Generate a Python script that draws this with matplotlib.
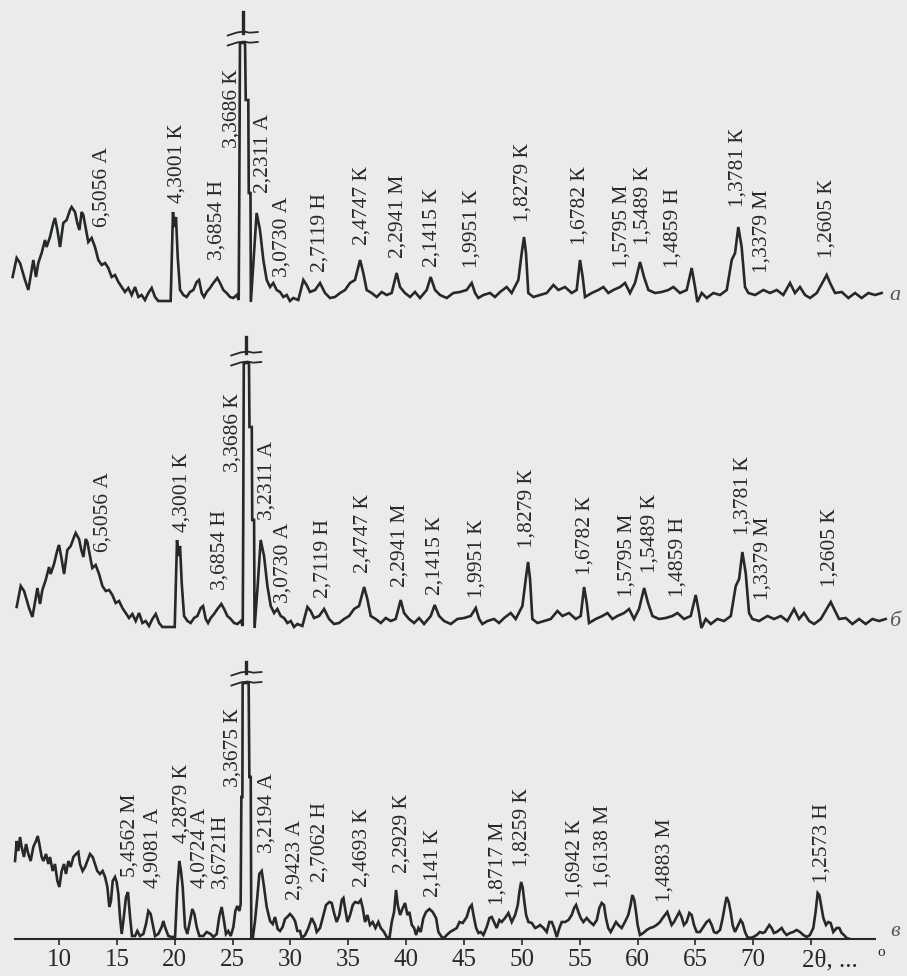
import matplotlib.pyplot as plt

# --- data: (2theta, intensity in px above the trace baseline) ---
trace_a = [
    (5.99, 25), (6.34, 44), (6.63, 39), (7.06, 22), (7.35, 12), (7.64, 32), (7.78, 42), (8.01, 25),
    (8.21, 39), (8.50, 49), (8.79, 62), (8.93, 55), (9.22, 65), (9.51, 79), (9.65, 84), (9.86, 72),
    (10.09, 55), (10.37, 79), (10.66, 82), (10.95, 92), (11.09, 95), (11.38, 90), (11.58, 79),
    (11.76, 72), (11.96, 90), (12.10, 87), (12.39, 69), (12.53, 60), (12.82, 64), (13.11, 55),
    (13.40, 42), (13.69, 37), (13.98, 39), (14.26, 34), (14.55, 25), (14.84, 27), (15.13, 20),
    (15.42, 15), (15.70, 10), (15.99, 14), (16.28, 7), (16.57, 15), (16.86, 5), (17.14, 7),
    (17.43, 2), (17.72, 9), (18.01, 14), (18.30, 5), (18.58, 1), (19.31, 1), (19.65, 1),
    (19.77, 55), (19.85, 90), (19.97, 75), (20.11, 85), (20.26, 45), (20.46, 12), (20.75, 7),
    (21.03, 5), (21.32, 10), (21.61, 12), (21.90, 20), (22.10, 22), (22.33, 9), (22.53, 5),
    (22.76, 10), (23.05, 14), (23.34, 19), (23.68, 24), (23.92, 19), (24.20, 12), (24.49, 9),
    (24.78, 5), (25.07, 4), (25.36, 7), (25.53, 2), (25.58, 102), (25.64, 259), (26.08, 259),
    (26.14, 202), (26.36, 202), (26.40, 109), (26.55, 109), (26.58, 0), (26.80, 39), (27.08, 89),
    (27.37, 72), (27.66, 42), (27.95, 22), (28.24, 15), (28.52, 19), (28.81, 12), (29.10, 10),
    (29.39, 5), (29.68, 7), (29.96, 1), (30.25, 4), (30.68, 2), (31.12, 22), (31.40, 17),
    (31.69, 10), (32.13, 12), (32.56, 19), (32.99, 9), (33.42, 4), (33.85, 5), (34.29, 9),
    (34.72, 12), (35.15, 19), (35.58, 22), (36.02, 42), (36.30, 29), (36.59, 12), (37.02, 9),
    (37.46, 5), (37.89, 10), (38.32, 7), (38.75, 9), (39.18, 29), (39.47, 15), (39.90, 9),
    (40.34, 5), (40.77, 10), (41.20, 4), (41.78, 12), (42.12, 25), (42.50, 12), (42.93, 7),
    (43.51, 4), (44.08, 9), (44.66, 10), (45.23, 12), (45.67, 19), (45.96, 9), (46.24, 4),
    (46.68, 7), (47.25, 9), (47.68, 5), (48.12, 10), (48.69, 15), (49.12, 9), (49.70, 22),
    (49.99, 49), (50.19, 65), (50.36, 49), (50.56, 9), (51.00, 5), (51.57, 7), (52.15, 9),
    (52.73, 17), (53.16, 12), (53.73, 15), (54.31, 9), (54.74, 12), (55.03, 42), (55.26, 25),
    (55.46, 5), (56.04, 9), (56.61, 12), (57.05, 15), (57.48, 9), (57.91, 12), (58.49, 15),
    (58.92, 19), (59.35, 9), (59.78, 19), (60.22, 40), (60.56, 25), (60.94, 12), (61.51, 9),
    (62.09, 10), (62.66, 12), (63.10, 15), (63.67, 9), (64.25, 12), (64.68, 34), (64.97, 15),
    (65.17, 0), (65.55, 9), (65.98, 4), (66.55, 9), (67.13, 7), (67.71, 12), (68.14, 42),
    (68.43, 49), (68.71, 75), (69.00, 55), (69.29, 15), (69.58, 9), (70.16, 7), (70.88, 12),
    (71.45, 9), (72.03, 12), (72.60, 7), (73.18, 19), (73.61, 9), (74.04, 15), (74.48, 7),
    (74.91, 4), (75.49, 9), (76.35, 27), (76.64, 19), (77.07, 9), (77.65, 10), (78.22, 4),
    (78.80, 9), (79.37, 4), (79.95, 9), (80.53, 7), (81.10, 9),
]

trace_b = [
    (6.34, 21), (6.69, 42), (6.98, 37), (7.41, 20), (7.70, 11), (7.99, 30), (8.13, 40), (8.36, 24),
    (8.56, 38), (8.85, 48), (9.14, 61), (9.28, 54), (9.57, 64), (9.86, 78), (10.00, 83), (10.21, 70),
    (10.44, 54), (10.72, 78), (11.01, 82), (11.30, 91), (11.44, 95), (11.73, 89), (11.93, 78),
    (12.11, 71), (12.31, 89), (12.45, 86), (12.74, 68), (12.88, 60), (13.17, 63), (13.46, 54),
    (13.75, 42), (14.04, 37), (14.33, 38), (14.61, 33), (14.90, 25), (15.19, 27), (15.48, 20),
    (15.77, 15), (16.05, 10), (16.34, 14), (16.63, 7), (16.92, 15), (17.21, 5), (17.49, 7),
    (17.78, 2), (18.07, 9), (18.36, 14), (18.65, 5), (18.93, 1), (19.66, 1), (20.00, 1),
    (20.12, 52), (20.20, 88), (20.32, 72), (20.46, 82), (20.61, 44), (20.81, 12), (21.10, 7),
    (21.38, 5), (21.67, 10), (21.96, 12), (22.25, 20), (22.45, 22), (22.68, 9), (22.88, 5),
    (23.11, 10), (23.40, 14), (23.69, 19), (24.03, 24), (24.27, 19), (24.55, 12), (24.84, 9),
    (25.13, 5), (25.42, 4), (25.71, 7), (25.88, 2), (25.92, 100), (25.97, 265), (26.42, 265),
    (26.46, 201), (26.66, 201), (26.70, 108), (26.86, 108), (26.90, 0), (27.15, 39), (27.43, 88),
    (27.72, 72), (28.01, 42), (28.30, 22), (28.59, 15), (28.87, 19), (29.16, 12), (29.45, 10),
    (29.74, 5), (30.03, 7), (30.31, 1), (30.60, 4), (31.03, 2), (31.47, 21), (31.75, 17),
    (32.04, 10), (32.48, 12), (32.91, 19), (33.34, 9), (33.77, 4), (34.20, 5), (34.64, 9),
    (35.07, 12), (35.50, 19), (35.93, 22), (36.37, 41), (36.65, 29), (36.94, 12), (37.37, 9),
    (37.81, 5), (38.24, 10), (38.67, 7), (39.10, 9), (39.53, 28), (39.82, 15), (40.25, 9),
    (40.69, 5), (41.12, 10), (41.55, 4), (42.13, 12), (42.47, 23), (42.85, 12), (43.28, 7),
    (43.86, 4), (44.43, 9), (45.01, 10), (45.58, 12), (46.02, 20), (46.31, 9), (46.59, 4),
    (47.03, 7), (47.60, 9), (48.03, 5), (48.47, 10), (49.04, 15), (49.47, 9), (50.05, 22),
    (50.34, 49), (50.54, 66), (50.71, 49), (50.91, 9), (51.35, 5), (51.92, 7), (52.50, 9),
    (53.08, 17), (53.51, 12), (54.08, 15), (54.66, 9), (55.09, 12), (55.38, 41), (55.61, 25),
    (55.81, 5), (56.39, 9), (56.96, 12), (57.40, 15), (57.83, 9), (58.26, 12), (58.84, 15),
    (59.27, 19), (59.70, 9), (60.13, 19), (60.57, 40), (60.91, 25), (61.29, 12), (61.86, 9),
    (62.44, 10), (63.01, 12), (63.45, 15), (64.02, 9), (64.60, 12), (65.03, 33), (65.32, 15),
    (65.52, 0), (65.90, 9), (66.33, 4), (66.90, 9), (67.48, 7), (68.06, 12), (68.49, 42),
    (68.78, 49), (69.06, 76), (69.35, 55), (69.64, 15), (69.93, 9), (70.51, 7), (71.23, 12),
    (71.80, 9), (72.38, 12), (72.95, 7), (73.53, 19), (73.96, 9), (74.39, 15), (74.83, 7),
    (75.26, 4), (75.84, 9), (76.70, 26), (76.99, 19), (77.42, 9), (78.00, 10), (78.57, 4),
    (79.15, 9), (79.72, 4), (80.30, 9), (80.88, 7), (81.45, 9),
]

trace_c = [
    (6.20, 78), (6.34, 98), (6.48, 88), (6.63, 102), (6.77, 92), (6.97, 82), (7.15, 95), (7.35, 85),
    (7.55, 78), (7.78, 92), (8.01, 98), (8.16, 103), (8.30, 95), (8.50, 82), (8.65, 78), (8.88, 85),
    (9.08, 75), (9.22, 82), (9.45, 68), (9.65, 75), (9.86, 58), (10.03, 52), (10.23, 68),
    (10.43, 75), (10.60, 65), (10.81, 78), (11.01, 72), (11.24, 82), (11.47, 85), (11.67, 87),
    (11.81, 75), (12.04, 68), (12.25, 72), (12.45, 78), (12.68, 85), (12.91, 82), (13.11, 75),
    (13.31, 68), (13.54, 65), (13.77, 68), (13.98, 62), (14.18, 52), (14.35, 32), (14.49, 38),
    (14.64, 58), (14.84, 62), (14.98, 57), (15.13, 45), (15.27, 22), (15.42, 5), (15.56, 18),
    (15.79, 42), (15.96, 47), (16.14, 22), (16.31, 3), (16.57, 3), (16.77, 8), (17.00, 3),
    (17.29, 5), (17.52, 15), (17.72, 28), (17.92, 25), (18.15, 12), (18.30, 3), (18.58, 5),
    (18.87, 12), (19.02, 18), (19.16, 12), (19.45, 3), (19.74, 2), (20.03, 2), (20.23, 52),
    (20.40, 78), (20.54, 68), (20.69, 52), (20.89, 12), (21.09, 5), (21.32, 18), (21.52, 30),
    (21.70, 25), (21.90, 12), (22.13, 3), (22.47, 3), (22.76, 7), (23.11, 5), (23.34, 2),
    (23.63, 5), (23.86, 23), (24.06, 32), (24.26, 18), (24.43, 5), (24.63, 8), (24.84, 3),
    (25.07, 12), (25.24, 28), (25.41, 33), (25.59, 28), (25.70, 35), (25.76, 142), (25.85, 142),
    (25.87, 256), (26.39, 256), (26.45, 162), (26.57, 162), (26.62, 0), (26.74, 0), (26.94, 18),
    (27.14, 42), (27.31, 65), (27.52, 68), (27.72, 52), (27.95, 32), (28.24, 18), (28.47, 15),
    (28.67, 22), (28.90, 10), (29.10, 8), (29.33, 12), (29.53, 20), (29.73, 22), (29.96, 25),
    (30.20, 22), (30.40, 18), (30.60, 8), (30.83, 8), (30.98, 1), (31.27, 4), (31.55, 11),
    (31.84, 21), (32.13, 14), (32.27, 7), (32.56, 11), (32.85, 24), (33.08, 34), (33.37, 37),
    (33.57, 36), (33.77, 26), (34.00, 17), (34.23, 24), (34.44, 39), (34.58, 41), (34.72, 31),
    (34.93, 17), (35.16, 24), (35.39, 34), (35.59, 37), (35.88, 36), (36.08, 39), (36.25, 31),
    (36.45, 17), (36.65, 24), (36.88, 14), (37.11, 17), (37.35, 11), (37.60, 17), (37.81, 11),
    (38.09, 7), (38.32, 2), (38.56, 1), (38.76, 17), (38.96, 27), (39.13, 49), (39.28, 34),
    (39.48, 24), (39.71, 31), (39.91, 36), (40.11, 24), (40.28, 27), (40.49, 14), (40.69, 11),
    (40.86, 4), (41.06, 11), (41.26, 7), (41.49, 21), (41.72, 27), (42.01, 30), (42.30, 27),
    (42.59, 21), (42.79, 7), (43.08, 2), (43.28, 1), (43.51, 4), (43.80, 7), (44.09, 9),
    (44.38, 11), (44.61, 17), (44.89, 16), (45.24, 22), (45.47, 31), (45.67, 34), (45.87, 21),
    (46.05, 11), (46.25, 6), (46.45, 7), (46.68, 4), (46.97, 12), (47.20, 21), (47.40, 22),
    (47.60, 17), (47.83, 11), (48.06, 19), (48.26, 17), (48.55, 21), (48.84, 26), (49.13, 17),
    (49.42, 24), (49.65, 34), (49.79, 47), (49.94, 57), (50.08, 51), (50.22, 37), (50.37, 24),
    (50.57, 17), (50.86, 16), (51.15, 11), (51.35, 12), (51.58, 14), (51.87, 11), (52.15, 7),
    (52.38, 17), (52.59, 17), (52.79, 11), (53.02, 2), (53.25, 11), (53.45, 17), (53.74, 17),
    (54.03, 19), (54.31, 24), (54.52, 31), (54.69, 34), (54.89, 27), (55.09, 21), (55.32, 17),
    (55.61, 21), (55.90, 17), (56.19, 14), (56.48, 19), (56.70, 31), (56.90, 36), (57.10, 34),
    (57.27, 21), (57.47, 11), (57.68, 7), (57.91, 12), (58.14, 17), (58.34, 14), (58.63, 11),
    (58.91, 17), (59.20, 24), (59.40, 34), (59.55, 44), (59.72, 39), (59.87, 27), (60.01, 14),
    (60.21, 4), (60.50, 6), (60.79, 9), (61.08, 11), (61.36, 12), (61.65, 14), (61.94, 17),
    (62.17, 21), (62.37, 24), (62.57, 27), (62.75, 21), (62.95, 14), (63.15, 17), (63.38, 22),
    (63.61, 27), (63.81, 22), (64.01, 14), (64.24, 17), (64.48, 26), (64.68, 24), (64.88, 14),
    (65.11, 7), (65.40, 7), (65.69, 12), (65.97, 17), (66.20, 19), (66.41, 14), (66.61, 7),
    (66.84, 6), (67.13, 9), (67.36, 21), (67.56, 34), (67.70, 42), (67.88, 37), (68.05, 27),
    (68.22, 14), (68.42, 7), (68.71, 14), (68.91, 19), (69.08, 16), (69.29, 7), (69.49, 2),
    (69.72, 1), (70.01, 2), (70.30, 4), (70.58, 7), (70.81, 6), (71.01, 7), (71.22, 11),
    (71.39, 14), (71.59, 11), (71.79, 6), (72.02, 7), (72.25, 9), (72.46, 11), (72.66, 7),
    (72.89, 4), (73.18, 6), (73.46, 7), (73.75, 9), (74.04, 7), (74.33, 4), (74.62, 2),
    (74.90, 4), (75.19, 11), (75.39, 27), (75.57, 46), (75.71, 44), (75.86, 34), (76.06, 21),
    (76.29, 14), (76.49, 17), (76.69, 16), (76.92, 7), (77.21, 11), (77.44, 11), (77.64, 6),
    (77.84, 4), (78.07, 1), (78.36, 0),
]

# peak annotations: d-spacing + phase, and the 2theta they sit over
labels_a = ["6,5056 А", "4,3001 К", "3,6854 Н", "3,3686 К", "2,2311 А", "3,0730 А", "2,7119 Н",
            "2,4747 К", "2,2941 М", "2,1415 К", "1,9951 К", "1,8279 К", "1,6782 К", "1,5795 М",
            "1,5489 К", "1,4859 Н", "1,3781 К", "1,3379 М", "1,2605 К"]
peaks_a = [13.72, 20.20, 23.66, 24.95, 27.63, 29.27, 32.56, 36.19, 39.30, 42.24, 45.70, 50.10,
           55.03, 58.66, 60.48, 63.07, 68.69, 70.76, 76.38]

labels_b = ["6,5056 А", "4,3001 К", "3,6854 Н", "3,3686 К", "3,2311 А", "3,0730 А", "2,7119 Н",
            "2,4747 К", "2,2941 М", "2,1415 К", "1,9951 К", "1,8279 К", "1,6782 К", "1,5795 М",
            "1,5489 К", "1,4859 Н", "1,3781 К", "1,3379 М", "1,2605 К"]
peaks_b = [13.80, 20.63, 23.92, 25.04, 27.98, 29.36, 32.82, 36.27, 39.47, 42.50, 46.13, 50.45,
           55.46, 59.09, 61.08, 63.50, 69.12, 70.85, 76.64]

labels_c = ["5,4562 М", "4,9081 А", "4,2879 К", "4,0724 А", "3,6721Н", "3,3675 К", "3,2194 А",
            "2,9423 А", "2,7062 Н", "2,4693 К", "2,2929 К", "2,141 К", "1,8717 М", "1,8259 К",
            "1,6942 К", "1,6138 М", "1,4883 М", "1,2573 Н"]
peaks_c = [16.14, 18.12, 20.63, 22.19, 23.92, 25.04, 27.98, 30.40, 32.56, 36.19, 39.65, 42.32,
           47.94, 50.02, 54.60, 57.02, 62.38, 75.95]

xticks = [10, 15, 20, 25, 30, 35, 40, 45, 50, 55, 60, 65, 70, 75]

# --- layout (px units: axes y runs 0..939 = figure rows 939..0) ---
label_y_a = [75, 99, 42, 154, 109, 25, 30, 57, 44, 35, 34, 80, 57, 34, 57, 34, 95, 29, 44]
label_y_b = [76, 96, 38, 156, 108, 25, 30, 55, 41, 33, 30, 80, 53, 31, 55, 31, 93, 28, 41]
label_y_c = [62, 51, 96, 51, 51, 152, 86, 39, 57, 52, 66, 42, 34, 72, 41, 51, 37, 56]

plt.rcParams['font.family'] = ['Liberation Serif', 'DejaVu Serif']
INK = '#252928'
PAPER = '#ebebee'

fig = plt.figure(figsize=(9.07, 9.76), dpi=100, facecolor=PAPER)
ax = fig.add_axes([0, 37 / 976, 1, 939 / 976])
ax.set_facecolor('none')
ax.set_xlim(4.90, 83.29)
ax.set_ylim(0, 939)

# (trace, labels, peak x, label heights, baseline, break lo/hi/top, stub x, tag)
panels = [
    (trace_a, labels_a, peaks_a, label_y_a, 637, (259, 269, 290), 25.88, 'а'),
    (trace_b, labels_b, peaks_b, label_y_b, 311, (265, 275, 291), 26.18, 'б'),
    (trace_c, labels_c, peaks_c, label_y_c, 0, (256, 266, 277), 26.20, 'в'),
]

wave_dx = [-1.3, -0.5, 0.1, 0.6, 1.3]
wave_dy = [-2.5, 0.5, 1.5, 0.3, 1.0]

for trace, labels, peaks, label_y, base, (lo, hi, top), stub_x, tag in panels:
    xs = [p[0] for p in trace]
    ys = [base + p[1] for p in trace]
    ax.plot(xs, ys, color=INK, lw=1.9, solid_joinstyle='miter')

    # broken off main quartz/kaolinite peak
    for level in (lo, hi):
        ax.plot([stub_x + d for d in wave_dx], [base + level + d for d in wave_dy],
                color=INK, lw=1.3)
    ax.plot([stub_x, stub_x], [base + hi, base + top], color=INK, lw=2.4)

    for text, x, y in zip(labels, peaks, label_y):
        ax.text(x, base + y, text, rotation=90, ha='center', va='bottom',
                fontsize=15.5, color=INK)

    ax.text(82.25, base + 7, tag, style='italic', fontsize=16, color='#555858',
            ha='center', va='center')

for side in ('top', 'right', 'left'):
    ax.spines[side].set_visible(False)
ax.spines['bottom'].set_bounds(6.2, 80.5)
ax.spines['bottom'].set_linewidth(1.5)
ax.spines['bottom'].set_color(INK)

ax.set_yticks([])
ax.set_xticks(xticks)
ax.set_xticklabels([str(t) for t in xticks[:-1]] + [''])
ax.tick_params(axis='x', direction='out', length=4.5, width=1.2, pad=3,
               labelsize=18, colors=INK)

# axis name sits in place of the 75 tick label
ax.text(74.2, -10.5, '2θ, ...', fontsize=18, color=INK, ha='left', va='top')
ax.text(81.1, -13, 'o', fontsize=11, color=INK, ha='center', va='center')

fig.savefig('out.png', dpi=100, facecolor=PAPER)
